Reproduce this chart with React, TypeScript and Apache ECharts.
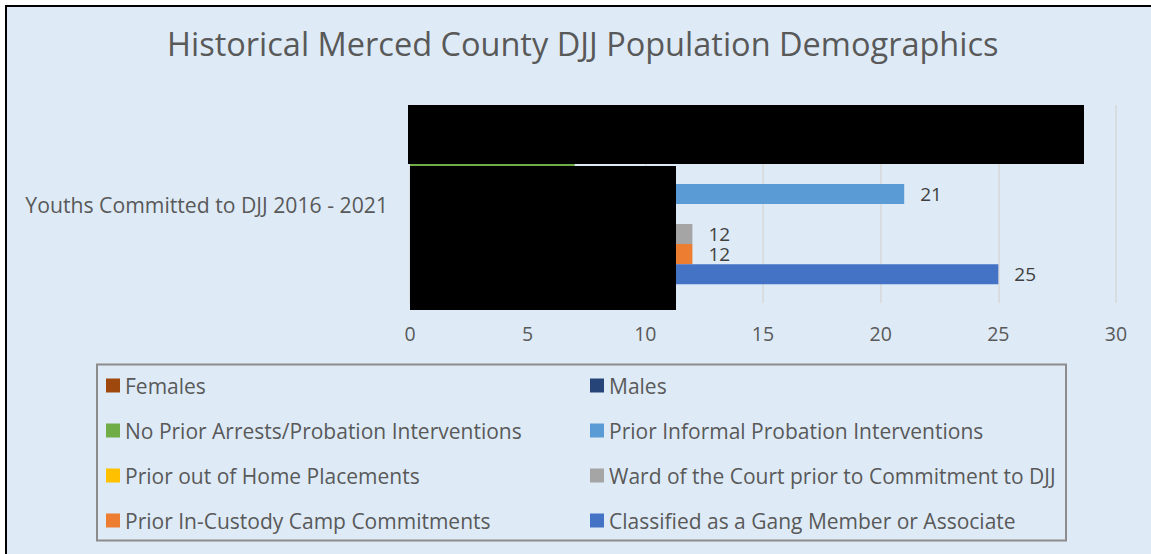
import React, { useEffect, useRef } from "react";
import * as echarts from "echarts";

const categories = ["Youths Committed to DJJ 2016 - 2021"];
const seriesNames = [
  "Females",
  "Males",
  "No Prior Arrests/Probation Interventions",
  "Prior Informal Probation Interventions",
  "Prior out of Home Placements",
  "Ward of the Court prior to Commitment to DJJ",
  "Prior In-Custody Camp Commitments",
  "Classified as a Gang Member or Associate",
];
// values hidden under redaction boxes are estimates
const seriesValues = [1, 27, 7, 21, 6, 12, 12, 25];
const seriesColors = [
  "#9E480E",
  "#264478",
  "#70AD47",
  "#5B9BD5",
  "#FFC000",
  "#A5A5A5",
  "#ED7D31",
  "#4472C4",
];
const legendLeftCol = [seriesNames[0], seriesNames[2], seriesNames[4], seriesNames[6]];
const legendRightCol = [seriesNames[1], seriesNames[3], seriesNames[5], seriesNames[7]];
const titleText = "Historical Merced County DJJ Population Demographics";

const FONT = "'Open Sans', sans-serif";
const GREY = "#595959";

export default function App() {
  const ref = useRef<HTMLDivElement>(null);
  useEffect(() => {
    if (!ref.current) return;
    const chart = echarts.init(ref.current, undefined, { renderer: "svg" });
    chart.setOption({
      animation: false,
      backgroundColor: "#DEEBF7",
      textStyle: { fontFamily: FONT },
      title: {
        text: titleText,
        left: 167,
        top: 27,
        padding: 0,
        textStyle: { fontFamily: FONT, fontSize: 32.5, fontWeight: "normal", color: GREY },
      },
      grid: { left: 410, right: 35, top: 105, bottom: 251, containLabel: false },
      xAxis: {
        type: "value",
        min: 0,
        max: 30,
        interval: 5,
        axisLine: { show: false },
        axisTick: { show: false },
        splitLine: { lineStyle: { color: "#D9D9D9", width: 1.5 } },
        axisLabel: { color: GREY, fontSize: 19.5, fontFamily: FONT, margin: 20 },
      },
      yAxis: {
        type: "category",
        data: categories,
        axisLine: { show: true, lineStyle: { color: "#D9D9D9" } },
        axisTick: { show: false },
        axisLabel: { color: GREY, fontSize: 21.2, fontFamily: FONT, margin: 22 },
      },
      legend: [
        {
          data: legendLeftCol,
          orient: "vertical",
          left: 106,
          top: 375,
          padding: 0,
          itemWidth: 14,
          itemHeight: 14,
          itemGap: 24,
          icon: "rect",
          textStyle: { color: GREY, fontSize: 21, fontFamily: FONT, lineHeight: 20 },
        },
        {
          data: legendRightCol,
          orient: "vertical",
          left: 590,
          top: 375,
          padding: 0,
          itemWidth: 14,
          itemHeight: 14,
          itemGap: 24,
          icon: "rect",
          textStyle: { color: GREY, fontSize: 21, fontFamily: FONT, lineHeight: 20 },
        },
      ],
      series: seriesNames.map((name, i) => ({
        type: "bar",
        name,
        data: [seriesValues[i]],
        itemStyle: { color: seriesColors[i] },
        barGap: "0%",
        barCategoryGap: "19%",
        label: {
          show: true,
          position: "right",
          distance: 16,
          color: "#404040",
          fontSize: 19,
          lineHeight: 18,
          fontFamily: FONT,
        },
      })),
      graphic: [
        { type: "rect", shape: { x: 0, y: 0, width: 1151, height: 5 }, style: { fill: "#ffffff" }, silent: true },
        { type: "rect", shape: { x: 0, y: 0, width: 5, height: 554 }, style: { fill: "#ffffff" }, silent: true },
        { type: "line", shape: { x1: 5, y1: 6, x2: 1151, y2: 6 }, style: { stroke: "#000000", lineWidth: 2 }, silent: true },
        { type: "line", shape: { x1: 6, y1: 5, x2: 6, y2: 554 }, style: { stroke: "#000000", lineWidth: 2 }, silent: true },
        {
          type: "rect",
          shape: { x: 97, y: 364.5, width: 969, height: 176 },
          style: { fill: "none", stroke: "#8C8C8C", lineWidth: 2 },
          silent: true,
        },
        // redaction boxes present in the source image
        { type: "rect", z: 100, shape: { x: 408, y: 105, width: 676, height: 59 }, style: { fill: "#000000" }, silent: true },
        { type: "rect", z: 100, shape: { x: 410, y: 166, width: 266, height: 144 }, style: { fill: "#000000" }, silent: true },
      ],
    });
    return () => chart.dispose();
  }, []);
  return (
    <div
      ref={ref}
      style={{ position: "absolute", left: 0, top: 0, width: 1151, height: 554 }}
    />
  );
}
